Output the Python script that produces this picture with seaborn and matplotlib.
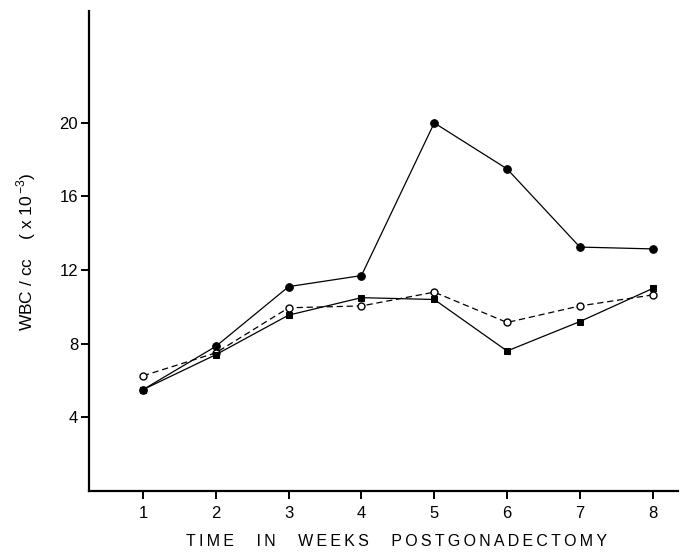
import matplotlib
matplotlib.use("Agg")
import matplotlib.pyplot as plt
import seaborn as sns
import pandas as pd

# WBC counts (x 10^-3 per cc) by week after gonadectomy
weeks = [1, 2, 3, 4, 5, 6, 7, 8]
group_filled_circle = [5.5, 7.85, 11.1, 11.7, 20.0, 17.5, 13.25, 13.15]
group_open_circle = [6.25, 7.5, 9.95, 10.05, 10.8, 9.15, 10.05, 10.65]
group_filled_square = [5.5, 7.4, 9.55, 10.5, 10.4, 7.6, 9.2, 11.0]
y_ticks = [4, 8, 12, 16, 20]

sns.set_theme(style="ticks")
plt.rcParams["font.family"] = ["Liberation Sans", "DejaVu Sans"]

fig = plt.figure(figsize=(6.86, 5.52), dpi=100)
ax = fig.add_axes([89.3 / 686, 61.2 / 552, (678 - 89.3) / 686, 480.1 / 552])

df = pd.DataFrame({"week": weeks, "a": group_filled_circle,
                   "b": group_open_circle, "c": group_filled_square})

sns.lineplot(data=df, x="week", y="a", ax=ax, color="black", lw=0.9,
             marker="o", markersize=5.5, markeredgecolor="black",
             markerfacecolor="black")
sns.lineplot(data=df, x="week", y="b", ax=ax, color="black", lw=0.9,
             linestyle=(0, (5, 3)), marker="o", markersize=5,
             markeredgecolor="black", markerfacecolor="white",
             markeredgewidth=1.0)
sns.lineplot(data=df, x="week", y="c", ax=ax, color="black", lw=0.9,
             marker="s", markersize=5, markeredgecolor="black",
             markerfacecolor="black")

ax.set_xlim(1 - 53.7 / 72.8, 8 + 25.3 / 72.8)
ax.set_ylim(0, 26.1)
ax.set_xticks(weeks)
ax.set_yticks(y_ticks)
ax.tick_params(axis="both", direction="out", length=6, width=1.4,
               labelsize=12, color="black", labelcolor="black", pad=2)
ax.tick_params(axis="x", pad=5)
for side in ["left", "bottom"]:
    ax.spines[side].set_linewidth(1.6)
    ax.spines[side].set_color("black")
sns.despine(ax=ax)

ax.set_xlabel("")
ax.set_ylabel("")
fig.text(397 / 686, 1 - 546 / 552,
         "T\u2009I\u2009M\u2009E     I\u2009N     W\u2009E\u2009E\u2009K\u2009S     "
         "P\u2009O\u2009S\u2009T\u2009G\u2009O\u2009N\u2009A\u2009D\u2009E\u2009C\u2009T\u2009O\u2009M\u2009Y",
         ha="center", va="baseline", fontsize=11.5, color="black")
fig.text(26 / 686, 1 - 252 / 552, r"WBC / cc    ( x 10$^{\,\mathregular{-3}}$)",
         rotation=90, ha="center", va="center", fontsize=12.5, color="black")

fig.savefig("out.png", dpi=100, facecolor="white")
